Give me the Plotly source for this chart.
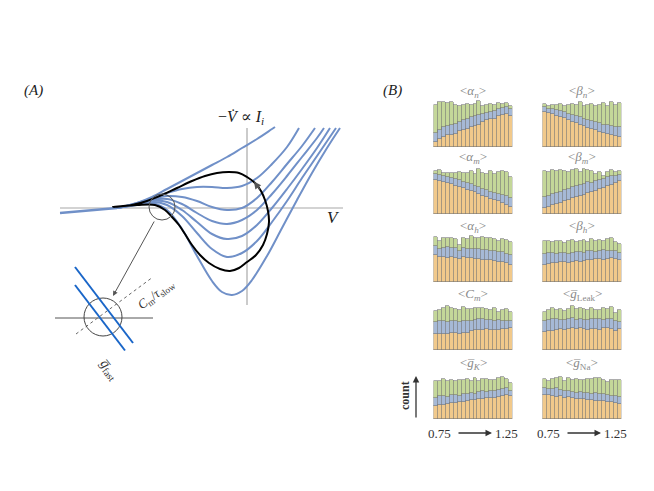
import plotly.graph_objects as go

W, H = 654, 491
OFF = 8                      # page body margin in the viewer
FW, FH = W - OFF, H - OFF    # figure size so that it fills the window
SERIF = "Liberation Serif, DejaVu Serif, serif"

# ---------------- Panel A data (V, I = -dV/dt), units of the sketch ----------------
tail_v = [-187, -160, -130]
tail_i = [-5, -2.5, 0]

blue_v = [
    [-130, -110, -95, -80, -65, -50, -35, -20, -5, 10, 25, 28],
    [-130, -110, -95, -80, -65, -50, -35, -20, -5, 10, 25, 40, 52],
    [-130, -110, -95, -80, -65, -50, -35, -20, -5, 10, 25, 40, 55, 68],
    [-130, -110, -95, -80, -65, -50, -35, -20, -5, 10, 25, 40, 55, 70, 77],
    [-130, -110, -95, -80, -65, -50, -35, -20, -5, 10, 25, 40, 55, 70, 83],
    [-130, -110, -95, -80, -65, -50, -35, -20, -5, 10, 25, 40, 55, 70, 89],
    [-130, -110, -95, -80, -65, -50, -35, -25, -15, -5, 5, 20, 35, 50, 65, 80, 93],
]
blue_i = [
    [0, 5, 11, 19, 27, 35, 43, 51, 60, 69, 79, 81],
    [0, 5, 10, 15, 19, 21, 21, 20, 22, 30, 44, 61, 80],
    [0, 4.5, 9, 12, 11, 7, 1, -2, 0, 10, 26, 44, 62, 80],
    [0, 4, 8, 9, 4, -5, -13, -16, -12, -2, 14, 32, 51, 70, 80],
    [0, 4, 7, 6, -2, -14, -26, -31, -28, -17, 0, 19, 39, 60, 80],
    [0, 3.5, 6, 3, -8, -25, -41, -49, -45, -33, -14, 7, 30, 52, 80],
    [0, 3, 5, -2, -21, -48, -73, -84, -87, -83, -72, -48, -20, 8, 35, 60, 80],
]

loop_v = [-134, -115, -100, -85, -70, -55, -42, -30, -18, -8, 0, 8, 14, 18, 21, 22, 20, 16, 9, 0,
          -8, -17, -27, -38, -47, -55, -62, -68, -75, -82, -92, -110, -134]
loop_i = [1, 3, 7, 13, 20, 27, 32, 35, 36, 35, 31, 25, 17, 8, -3, -14, -26, -37, -47, -54,
          -60, -63, -61, -55, -47, -37, -26, -17, -9, -2, 3, 3, 1]

# ---------------- Panel B data: cumulative bar tops (orange, blue, green) ----------------
hist_titles = [
    "&lt;<i>α<sub>n</sub></i>&gt;", "&lt;<i>β<sub>n</sub></i>&gt;",
    "&lt;<i>α<sub>m</sub></i>&gt;", "&lt;<i>β<sub>m</sub></i>&gt;",
    "&lt;<i>α<sub>h</sub></i>&gt;", "&lt;<i>β<sub>h</sub></i>&gt;",
    "&lt;<i>C<sub>m</sub></i>&gt;", "&lt;<i>g̅</i><sub>Leak</sub>&gt;",
    "&lt;<i>g̅<sub>K</sub></i>&gt;", "&lt;<i>g̅</i><sub>Na</sub>&gt;",
]
orange_top = [
    [5, 8, 10, 12, 12, 13, 16, 17, 18, 20, 21, 22, 25, 27, 28, 28, 31, 32, 33, 31],
    [35, 34, 33, 31, 30, 29, 27, 25, 24, 22, 21, 19, 18, 17, 15, 14, 13, 12, 11, 10],
    [34, 33, 32, 31, 30, 28, 27, 26, 24, 23, 22, 20, 18, 17, 15, 14, 13, 11, 9, 7],
    [6, 7, 9, 10, 11, 13, 14, 16, 17, 18, 19, 21, 22, 23, 25, 26, 28, 29, 31, 33],
    [27, 25, 25, 24, 25, 24, 23, 25, 24, 24, 23, 23, 22, 22, 22, 21, 20, 20, 19, 17],
    [17, 18, 19, 19, 20, 20, 19, 20, 21, 20, 21, 22, 22, 23, 23, 22, 23, 24, 23, 22],
    [16, 16, 16, 16, 17, 17, 16, 17, 17, 19, 20, 20, 20, 21, 20, 20, 20, 21, 21, 22],
    [18, 19, 19, 20, 21, 20, 21, 22, 21, 22, 21, 20, 21, 21, 20, 22, 22, 21, 19, 21],
    [13, 14, 14, 15, 16, 16, 17, 17, 18, 19, 19, 20, 20, 21, 21, 21, 22, 23, 24, 23],
    [24, 24, 23, 22, 23, 21, 22, 21, 20, 20, 20, 19, 19, 18, 18, 18, 17, 17, 16, 15],
]
blue_top = [
    [14, 17, 20, 21, 22, 23, 25, 27, 28, 30, 31, 32, 33, 34, 35, 36, 38, 39, 40, 38],
    [40, 38, 38, 37, 36, 35, 33, 32, 31, 30, 28, 27, 26, 25, 24, 22, 22, 21, 20, 20],
    [40, 39, 38, 37, 36, 35, 34, 32, 31, 30, 28, 27, 25, 24, 22, 21, 20, 19, 18, 16],
    [17, 18, 20, 21, 22, 24, 25, 27, 28, 29, 30, 32, 31, 33, 34, 35, 37, 38, 38, 39],
    [36, 33, 34, 35, 34, 34, 31, 34, 33, 33, 33, 33, 32, 32, 31, 31, 30, 30, 28, 27],
    [28, 29, 29, 28, 29, 29, 28, 29, 30, 30, 29, 31, 31, 30, 31, 32, 31, 31, 31, 29],
    [28, 29, 29, 28, 29, 29, 28, 29, 29, 29, 30, 31, 31, 30, 30, 29, 30, 29, 29, 29],
    [29, 30, 31, 31, 30, 30, 31, 32, 30, 31, 30, 30, 31, 31, 31, 30, 31, 31, 29, 28],
    [21, 23, 23, 22, 24, 24, 23, 25, 25, 26, 25, 27, 28, 27, 28, 28, 29, 30, 31, 28],
    [31, 30, 30, 31, 29, 28, 28, 27, 26, 27, 26, 26, 25, 26, 25, 25, 24, 23, 23, 22],
]
green_top = [
    [42, 45, 45, 44, 45, 42, 41, 42, 43, 42, 43, 46, 41, 42, 43, 42, 44, 43, 44, 41],
    [43, 41, 42, 42, 43, 41, 42, 43, 42, 45, 41, 42, 43, 41, 42, 44, 41, 45, 42, 44],
    [43, 44, 41, 41, 41, 41, 42, 41, 41, 43, 40, 45, 41, 40, 43, 40, 42, 43, 42, 37],
    [43, 42, 44, 43, 44, 43, 42, 44, 45, 42, 45, 44, 43, 40, 42, 38, 42, 44, 42, 43],
    [45, 41, 44, 44, 44, 43, 37, 44, 43, 46, 44, 44, 45, 44, 44, 43, 41, 43, 42, 40],
    [41, 41, 40, 41, 41, 39, 41, 42, 40, 41, 42, 40, 43, 41, 42, 41, 43, 44, 40, 38],
    [39, 40, 42, 44, 42, 41, 40, 43, 41, 41, 42, 42, 42, 41, 40, 42, 38, 40, 41, 38],
    [38, 40, 42, 40, 41, 39, 41, 44, 41, 42, 41, 40, 42, 40, 40, 42, 41, 43, 37, 40],
    [38, 38, 40, 38, 39, 38, 39, 39, 40, 38, 41, 38, 40, 40, 39, 39, 41, 42, 40, 36],
    [40, 38, 40, 41, 42, 38, 41, 39, 40, 39, 39, 40, 40, 41, 41, 39, 37, 39, 39, 39],
]
bin_index = list(range(20))
range_labels = ["0.75", "1.25"]

# ---------------- styles ----------------
C_BLUE = "#7090c8"
C_AX = "#a8a8a8"
C_OR, C_BL, C_GR = "#F1C98B", "#A6B9D6", "#C4D799"
C_EDGE = "#777777"


def px(x):
    return (x - OFF) / FW


def py(y):
    return 1 - (y - OFF) / FH


def label(x, y, text, size, color="#222", angle=0):
    return dict(x=px(x), y=py(y), xref="paper", yref="paper", text=text, showarrow=False,
                xanchor="center", yanchor="middle", textangle=angle,
                font=dict(size=size, color=color, family=SERIF))


fig = go.Figure()
layout = dict(
    width=FW, height=FH, autosize=False,
    margin=dict(l=0, r=0, t=0, b=0, pad=0),
    paper_bgcolor="white", plot_bgcolor="rgba(0,0,0,0)",
    showlegend=False, barmode="stack", bargap=0,
    font=dict(family=SERIF, color="#333"),
)

# Panel A axes: 1 unit = 1 px; origin at page (247, 208)
layout["xaxis"] = dict(domain=[px(40), px(360)], range=[-207, 113], visible=False, fixedrange=True)
layout["yaxis"] = dict(domain=[py(400), py(100)], range=[-192, 108], visible=False, fixedrange=True)

shapes = []
annotations = []

# coordinate axes
shapes.append(dict(type="line", xref="x", yref="y", x0=-187, y0=0, x1=96, y1=0,
                   line=dict(color=C_AX, width=1.2), layer="below"))
shapes.append(dict(type="line", xref="x", yref="y", x0=0, y0=-97, x1=0, y1=80,
                   line=dict(color=C_AX, width=1.2), layer="below"))

fig.add_trace(go.Scatter(x=tail_v, y=tail_i, mode="lines", xaxis="x", yaxis="y",
                         line=dict(color=C_BLUE, width=2.4), hoverinfo="skip"))
for vv, ii in zip(blue_v, blue_i):
    fig.add_trace(go.Scatter(x=vv, y=ii, mode="lines", xaxis="x", yaxis="y",
                             line=dict(color=C_BLUE, width=2, shape="spline", smoothing=1.0),
                             hoverinfo="skip"))
fig.add_trace(go.Scatter(x=loop_v, y=loop_i, mode="lines", xaxis="x", yaxis="y",
                         line=dict(color="black", width=2, shape="spline", smoothing=1.0),
                         hoverinfo="skip"))

# zoom circle and inset
shapes.append(dict(type="circle", xref="x", yref="y", x0=-85 - 13, x1=-85 + 13, y0=1 - 13, y1=1 + 13,
                   line=dict(color="#555", width=1)))
shapes.append(dict(type="line", xref="x", yref="y", x0=-192, y0=-110, x1=-94, y1=-110,
                   line=dict(color="#555", width=1)))
shapes.append(dict(type="line", xref="x", yref="y", x0=-171, y0=-126, x1=-94, y1=-69,
                   line=dict(color="#666", width=1, dash="dot")))
shapes.append(dict(type="circle", xref="x", yref="y", x0=-144 - 19, x1=-144 + 19, y0=-109 - 19, y1=-109 + 19,
                   line=dict(color="#444", width=1)))
shapes.append(dict(type="line", xref="x", yref="y", x0=-172, y0=-59, x1=-114, y1=-135,
                   line=dict(color="#1a66c8", width=2)))
shapes.append(dict(type="line", xref="x", yref="y", x0=-172, y0=-77, x1=-122, y1=-142.5,
                   line=dict(color="#1a66c8", width=2)))

# arrow from circle to inset
annotations.append(dict(x=-134, y=-88, ax=-92, ay=-12, xref="x", yref="y", axref="x", ayref="y",
                        text="", showarrow=True, arrowhead=2, arrowsize=1, arrowwidth=1,
                        arrowcolor="#555"))
# direction arrow on the loop
annotations.append(dict(x=7, y=26.5, ax=14, ay=17, xref="x", yref="y", axref="x", ayref="y",
                        text="", showarrow=True, arrowhead=2, arrowsize=1.1, arrowwidth=1.3,
                        arrowcolor="#555"))

# Panel A texts
annotations += [
    label(33, 90, "<i>(A)</i>", 15),
    label(241, 117, "−<i>V̇</i> ∝ <i>I<sub>i</sub></i>", 16),
    label(333, 218, "<i>V</i>", 17),
    label(156, 294, "<i>C</i><sub>m</sub>/<i>τ</i><sub>slow</sub>", 13, "#333", -37),
    label(109, 369, "<i>g̅</i><sub>fast</sub>", 14, "#333", 53),
    label(392, 90, "<i>(B)</i>", 15),
]

# Panel B histograms
col_x0 = [433.5, 542.5]
row_bottom = [147, 214, 282, 350, 419]
for k in range(10):
    r, c = divmod(k, 2)
    ax_id = k + 2
    xa, ya = f"x{ax_id}", f"y{ax_id}"
    x0 = col_x0[c]
    yb = row_bottom[r]
    layout[f"xaxis{ax_id}"] = dict(domain=[px(x0), px(x0 + 79)], range=[-0.5, 19.5],
                                   visible=False, fixedrange=True, anchor=ya)
    layout[f"yaxis{ax_id}"] = dict(domain=[py(yb), py(yb - 47)], range=[0, 47],
                                   visible=False, fixedrange=True, anchor=xa)
    o = orange_top[k]
    b = blue_top[k]
    g = green_top[k]
    seg_o = o
    seg_b = [bb - oo for bb, oo in zip(b, o)]
    seg_g = [gg - bb for gg, bb in zip(g, b)]
    for seg, col in ((seg_o, C_OR), (seg_b, C_BL), (seg_g, C_GR)):
        fig.add_trace(go.Bar(x=bin_index, y=seg, xaxis=xa, yaxis=ya, width=1.0,
                             marker=dict(color=col, line=dict(color=C_EDGE, width=0.6)),
                             hoverinfo="skip"))
    annotations.append(label(x0 + 39.5, yb - 56, hist_titles[k], 13, "#8a8a8a"))

# bottom range labels and arrows
for cx in (0, 109):
    annotations.append(label(439 + cx, 433, range_labels[0], 13, "#333"))
    annotations.append(label(506 + cx, 433, range_labels[1], 13, "#333"))
    annotations.append(dict(x=px(492 + cx), y=py(433), xref="paper", yref="paper",
                            ax=-35, ay=0, text="", showarrow=True, arrowhead=2,
                            arrowsize=1, arrowwidth=1.3, arrowcolor="#333"))

# count axis
annotations.append(dict(x=px(416), y=py(376), xref="paper", yref="paper", ax=0, ay=43,
                        text="", showarrow=True, arrowhead=2, arrowsize=1, arrowwidth=1.3,
                        arrowcolor="#333"))
annotations.append(label(405, 396, "<b>count</b>", 12, "#333", -90))

layout["shapes"] = shapes
layout["annotations"] = annotations
fig.update_layout(**layout)
fig.write_html("out.html")
